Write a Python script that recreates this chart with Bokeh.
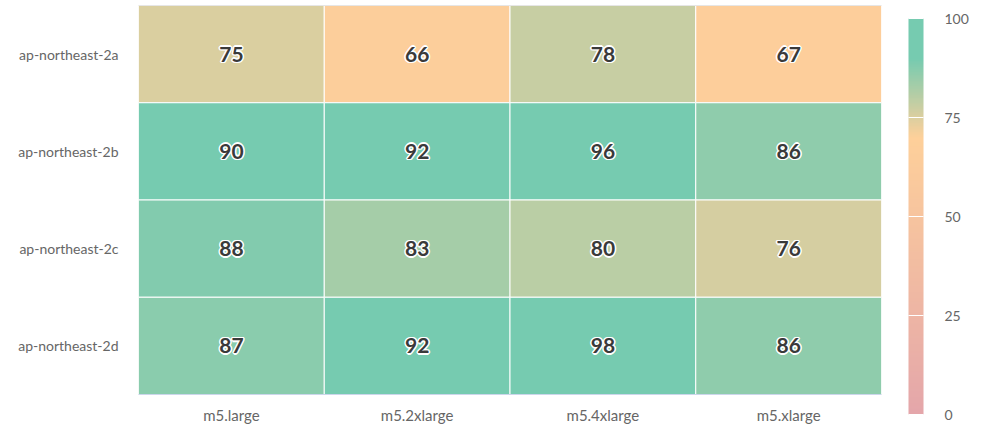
import numpy as np
from bokeh.plotting import figure
from bokeh.models import (ColumnDataSource, LinearColorMapper, FixedTicker, FactorRange,
                          ColorBar, CategoricalAxis)
from bokeh.transform import linear_cmap
from bokeh.core.properties import value
from bokeh.embed import file_html
from bokeh.resources import INLINE

instances = ["m5.large", "m5.2xlarge", "m5.4xlarge", "m5.xlarge"]
zones = ["ap-northeast-2a", "ap-northeast-2b", "ap-northeast-2c", "ap-northeast-2d"]
scores = {
    "ap-northeast-2a": [75, 66, 78, 67],
    "ap-northeast-2b": [90, 92, 96, 86],
    "ap-northeast-2c": [88, 83, 80, 76],
    "ap-northeast-2d": [87, 92, 98, 86],
}
color_stops = [(0, "#e4a6aa"), (70, "#fed09a"), (90, "#76cbb0"), (100, "#76cbb0")]
bar_ticks = [0, 25, 50, 75, 100]

def hex2rgb(h):
    h = h.lstrip("#")
    return np.array([int(h[i:i + 2], 16) for i in (0, 2, 4)], dtype=float)

xs = np.linspace(0, 100, 256)
sv = [s[0] for s in color_stops]
cols = np.array([hex2rgb(s[1]) for s in color_stops])
palette = []
for v in xs:
    rgb = [np.interp(v, sv, cols[:, k]) for k in range(3)]
    palette.append("#%02x%02x%02x" % tuple(int(round(c)) for c in rgb))

xcat, ycat, vals = [], [], []
for z in zones:
    for i, inst in enumerate(instances):
        xcat.append(inst)
        ycat.append(z)
        vals.append(scores[z][i])
src = ColumnDataSource(dict(x=xcat, y=ycat, v=vals, t=[str(v) for v in vals]))

FONT = "Lato"
p = figure(width=970, height=426, x_range=FactorRange(*instances),
           y_range=FactorRange(*reversed(zones)), output_backend="svg",
           toolbar_location=None, min_border_left=138, min_border_right=89,
           min_border_top=5, min_border_bottom=20, title=None)
p.rect(x="x", y="y", width=1, height=1, source=src,
       fill_color=linear_cmap("v", palette, 0, 100), line_color="white", line_width=1)

for dx, dy in [(-1.5, 0), (1.5, 0), (0, -1.5), (0, 1.5), (-1, -1), (1, 1), (-1, 1), (1, -1)]:
    p.text(x="x", y="y", text="t", source=src, x_offset=dx, y_offset=dy,
           text_align="center", text_baseline="middle", text_font=value(FONT),
           text_font_style="bold", text_font_size="21px", text_color="white")
p.text(x="x", y="y", text="t", source=src, text_align="center", text_baseline="middle",
       text_font=value(FONT), text_font_style="bold", text_font_size="21px",
       text_color="#3a3a3a")

p.outline_line_color = None
p.grid.grid_line_color = None
p.xaxis.axis_line_color = "#ccd6eb"
p.yaxis.axis_line_color = None
for ax in (p.xaxis, p.yaxis):
    ax.major_tick_line_color = None
    ax.major_tick_out = 0
    ax.major_tick_in = 0
    ax.minor_tick_line_color = None
    ax.major_label_text_font = FONT
    ax.major_label_text_color = "#666666"
p.xaxis.major_label_text_font_size = "15px"
p.yaxis.major_label_text_font_size = "14px"
p.xaxis.major_label_standoff = 11
p.yaxis.major_label_standoff = 20
p.x_range.range_padding = 0
p.y_range.range_padding = 0

top_axis = CategoricalAxis(axis_line_color="#e6e6e6", major_tick_line_color=None,
                           major_tick_out=0, major_tick_in=0, minor_tick_line_color=None,
                           major_label_text_color=None, major_label_text_font_size="1px",
                           major_label_standoff=0)
p.add_layout(top_axis, "above")

mapper = LinearColorMapper(palette=palette, low=0, high=100)
cb = ColorBar(color_mapper=mapper, width=15, height=396, padding=0, margin=0,
              location=(770, -20), ticker=FixedTicker(ticks=bar_ticks),
              major_tick_in=15, major_tick_out=0, major_tick_line_color="white",
              minor_tick_line_color=None, bar_line_color=None, border_line_color=None,
              background_fill_color=None, label_standoff=21,
              major_label_text_font=FONT, major_label_text_font_size="14px",
              major_label_text_color="#666666")
p.add_layout(cb, "center")

open("out.html", "w").write(file_html(p, INLINE))
